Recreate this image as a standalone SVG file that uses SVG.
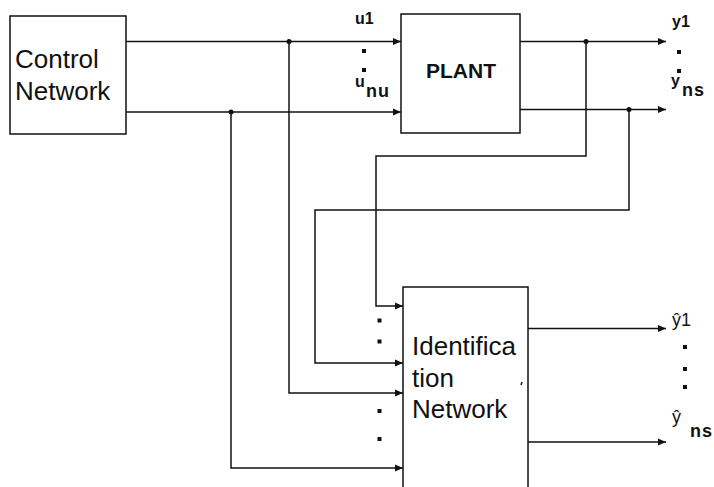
<svg xmlns="http://www.w3.org/2000/svg" width="714" height="487" viewBox="0 0 714 487">
<style>
.box{fill:#fff;stroke:#111;stroke-width:1.5}
.ln{fill:none;stroke:#111;stroke-width:1.5}
.big{font-family:"Liberation Sans",Arial,sans-serif;font-size:26px;fill:#111}
.pl{font-family:"Liberation Sans",Arial,sans-serif;font-size:21px;font-weight:bold;fill:#111}
.lb{font-family:"Liberation Sans",Arial,sans-serif;font-size:16px;font-weight:bold;fill:#111}
.sb{font-family:"Liberation Sans",Arial,sans-serif;font-size:18px;font-weight:bold;fill:#111;letter-spacing:1px}
.lr{font-family:"Liberation Sans",Arial,sans-serif;font-size:18px;fill:#111}
.dot{fill:#111}
</style>
<defs>
<marker id="ah" viewBox="0 0 8 8" refX="8" refY="4" markerWidth="8" markerHeight="8" markerUnits="userSpaceOnUse" orient="auto">
<path d="M0,0.5 L8,4 L0,7.5 Z" fill="#111"/>
</marker>
</defs>
<g id="control-network">
<rect class="box" x="10" y="16" width="116" height="118"/>
<text class="big" x="15" y="68">Control</text>
<text class="big" x="15" y="100">Network</text>
</g>
<g id="plant">
<rect class="box" x="401" y="14" width="119" height="119"/>
<text class="pl" x="426" y="78">PLANT</text>
</g>
<g id="identification-network">
<rect class="box" x="403" y="287" width="125" height="210"/>
<text class="big" x="412" y="355">Identifica</text>
<text class="big" x="412" y="387">tion</text>
<text class="big" x="412" y="418">Network</text>
<path class="ln" d="M522,382 L521,385" stroke-width="1"/>
</g>
<g id="connectors">
<path class="ln" d="M126,41.5 H401" marker-end="url(#ah)"/>
<path class="ln" d="M126,112 H401" marker-end="url(#ah)"/>
<path class="ln" d="M289,41.5 V393 H403" marker-end="url(#ah)"/>
<path class="ln" d="M231,112 V468 H403" marker-end="url(#ah)"/>
<path class="ln" d="M520,41.5 H666" marker-end="url(#ah)"/>
<path class="ln" d="M520,109.5 H666" marker-end="url(#ah)"/>
<path class="ln" d="M586,41.5 V156 H376 V306 H403" marker-end="url(#ah)"/>
<path class="ln" d="M629,109.5 V210 H315 V363 H403" marker-end="url(#ah)"/>
<path class="ln" d="M528,328.5 H666" marker-end="url(#ah)"/>
<path class="ln" d="M528,442 H666" marker-end="url(#ah)"/>
<circle class="dot" cx="289" cy="41.5" r="2.5"/>
<circle class="dot" cx="231" cy="112" r="2.5"/>
<circle class="dot" cx="586" cy="41.5" r="2.5"/>
<circle class="dot" cx="629" cy="109.5" r="2.5"/>
</g>
<g id="labels">
<text class="lb" x="355" y="24">u1</text>
<rect class="dot" x="362" y="49" width="4" height="4"/>
<rect class="dot" x="362" y="68" width="4" height="4"/>
<text class="lb" x="355" y="87">u</text>
<text class="sb" x="366" y="97">nu</text>
<text class="lb" x="672" y="27">y1</text>
<rect class="dot" x="677" y="50" width="4" height="4"/>
<rect class="dot" x="677" y="69" width="4" height="4"/>
<text class="lb" x="671" y="86">y</text>
<text class="sb" x="682" y="96">ns</text>
<rect class="dot" x="377.5" y="318.5" width="4" height="4"/>
<rect class="dot" x="377.5" y="339.5" width="4" height="4"/>
<rect class="dot" x="377.5" y="409" width="4" height="4"/>
<rect class="dot" x="377.5" y="437" width="4" height="4"/>
<text class="lr" x="672" y="326">ŷ1</text>
<rect class="dot" x="683" y="345" width="4" height="4"/>
<rect class="dot" x="683" y="367" width="4" height="4"/>
<rect class="dot" x="683" y="385" width="4" height="4"/>
<text class="lr" x="672" y="423">ŷ</text>
<text class="sb" x="690" y="437">ns</text>
</g>
</svg>
